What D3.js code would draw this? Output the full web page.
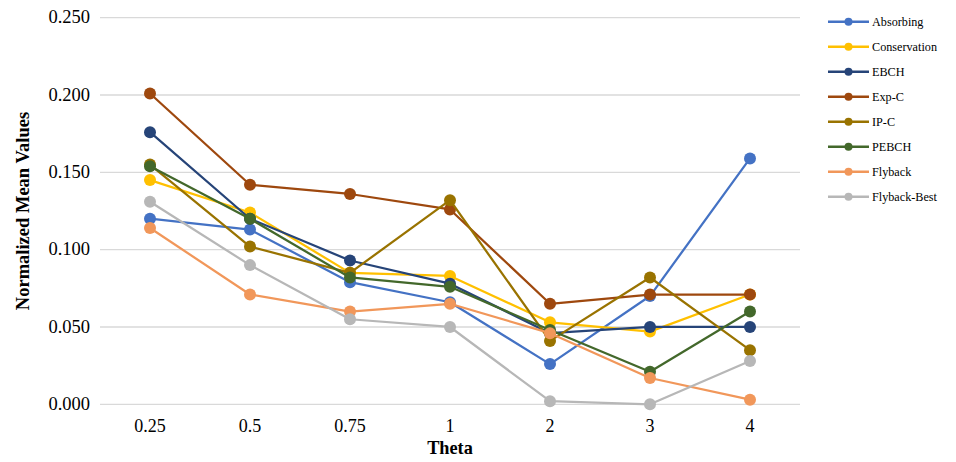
<!DOCTYPE html>
<html>
<head>
<meta charset="utf-8">
<script src="https://cdn.jsdelivr.net/npm/d3@7"></script>
<style>
  html, body { margin: 0; padding: 0; background: #fff; }
  svg, svg text { font-family: "Liberation Serif", "Times New Roman", Times, "DejaVu Serif", serif !important; }
</style>
</head>
<body>
<svg id="chart" width="956" height="462"></svg>
<script>
// Theta categories along the x axis
const thetaLabels = ["0.25", "0.5", "0.75", "1", "2", "3", "4"];

// Normalized mean values per method
const absorbing    = [0.120, 0.113, 0.079, 0.066, 0.026, 0.070, 0.159];
const conservation = [0.145, 0.124, 0.085, 0.083, 0.053, 0.047, 0.071];
const ebch         = [0.176, 0.120, 0.093, 0.078, 0.046, 0.050, 0.050];
const expC         = [0.201, 0.142, 0.136, 0.126, 0.065, 0.071, 0.071];
const ipC          = [0.155, 0.102, 0.085, 0.132, 0.041, 0.082, 0.035];
const pebch        = [0.154, 0.120, 0.082, 0.076, 0.048, 0.021, 0.060];
const flyback      = [0.114, 0.071, 0.060, 0.065, 0.046, 0.017, 0.003];
const flybackBest  = [0.131, 0.090, 0.055, 0.050, 0.002, 0.000, 0.028];

const yTicks = [0, 0.05, 0.10, 0.15, 0.20, 0.25];

const seriesNames  = ["Absorbing", "Conservation", "EBCH", "Exp-C", "IP-C", "PEBCH", "Flyback", "Flyback-Best"];
const seriesValues = [absorbing, conservation, ebch, expC, ipC, pebch, flyback, flybackBest];
const seriesColors = ["#4472C4", "#FFC000", "#264478", "#9E480E", "#997300", "#43682B", "#F1975A", "#B7B7B7"];

const series = seriesNames.map((name, i) => ({ name, values: seriesValues[i], color: seriesColors[i] }));

const svg = d3.select("#chart");
const plot = { left: 100, right: 800, top: 17.7, bottom: 404.3 };

const x = d3.scaleBand().domain(thetaLabels).range([plot.left, plot.right]);
const y = d3.scaleLinear().domain([0, 0.25]).range([plot.bottom, plot.top]);
const cx = d => x(d) + x.bandwidth() / 2;

// Horizontal gridlines
svg.append("g")
  .selectAll("line")
  .data(yTicks)
  .join("line")
  .attr("x1", plot.left).attr("x2", plot.right)
  .attr("y1", d => y(d)).attr("y2", d => y(d))
  .attr("stroke", "#D9D9D9").attr("stroke-width", 1.3);

// Y axis tick labels
const yAxis = svg.append("g")
  .attr("transform", `translate(${plot.left - 10},0)`)
  .call(d3.axisLeft(y).tickValues(yTicks).tickFormat(d3.format(".3f")).tickSize(0).tickPadding(0));
yAxis.select(".domain").remove();
yAxis.attr("font-family", null);
yAxis.selectAll("text")
  .attr("font-size", 18.5).attr("dy", "0.28em").attr("fill", "#000");

// X axis tick labels
const xAxis = svg.append("g")
  .attr("transform", `translate(0,${plot.bottom})`)
  .call(d3.axisBottom(x).tickSize(0).tickPadding(15));
xAxis.select(".domain").remove();
xAxis.attr("font-family", null);
xAxis.selectAll("text")
  .attr("font-size", 18).attr("fill", "#000");

// Axis titles
svg.append("text")
  .attr("x", (plot.left + plot.right) / 2).attr("y", 454.3)
  .attr("text-anchor", "middle")
  .attr("font-size", 18.3).attr("font-weight", "bold")
  .text("Theta");

svg.append("text")
  .attr("transform", `translate(29,${(plot.top + plot.bottom) / 2}) rotate(-90)`)
  .attr("text-anchor", "middle")
  .attr("font-size", 18.5).attr("font-weight", "bold")
  .text("Normalized Mean Values");

// Lines and markers
const line = d3.line()
  .x((d, i) => cx(thetaLabels[i]))
  .y(d => y(d));

const seriesG = svg.append("g")
  .selectAll("g")
  .data(series)
  .join("g");

seriesG.append("path")
  .attr("d", d => line(d.values))
  .attr("fill", "none")
  .attr("stroke", d => d.color)
  .attr("stroke-width", 2.25)
  .attr("stroke-linejoin", "round");

seriesG.selectAll("circle")
  .data(d => d.values.map((v, i) => ({ v, i, color: d.color })))
  .join("circle")
  .attr("cx", d => cx(thetaLabels[d.i]))
  .attr("cy", d => y(d.v))
  .attr("r", 6)
  .attr("fill", d => d.color);

// Legend
const legend = svg.append("g")
  .selectAll("g")
  .data(series)
  .join("g")
  .attr("transform", (d, i) => `translate(828,${21.7 + i * 25})`);

legend.append("line")
  .attr("x1", 0).attr("x2", 41)
  .attr("stroke", d => d.color).attr("stroke-width", 2.5);
legend.append("circle")
  .attr("cx", 20.5).attr("r", 4)
  .attr("fill", d => d.color);
legend.append("text")
  .attr("x", 44).attr("y", 4)
  .attr("font-size", 12.2).attr("fill", "#000")
  .text(d => d.name);
</script>
</body>
</html>
